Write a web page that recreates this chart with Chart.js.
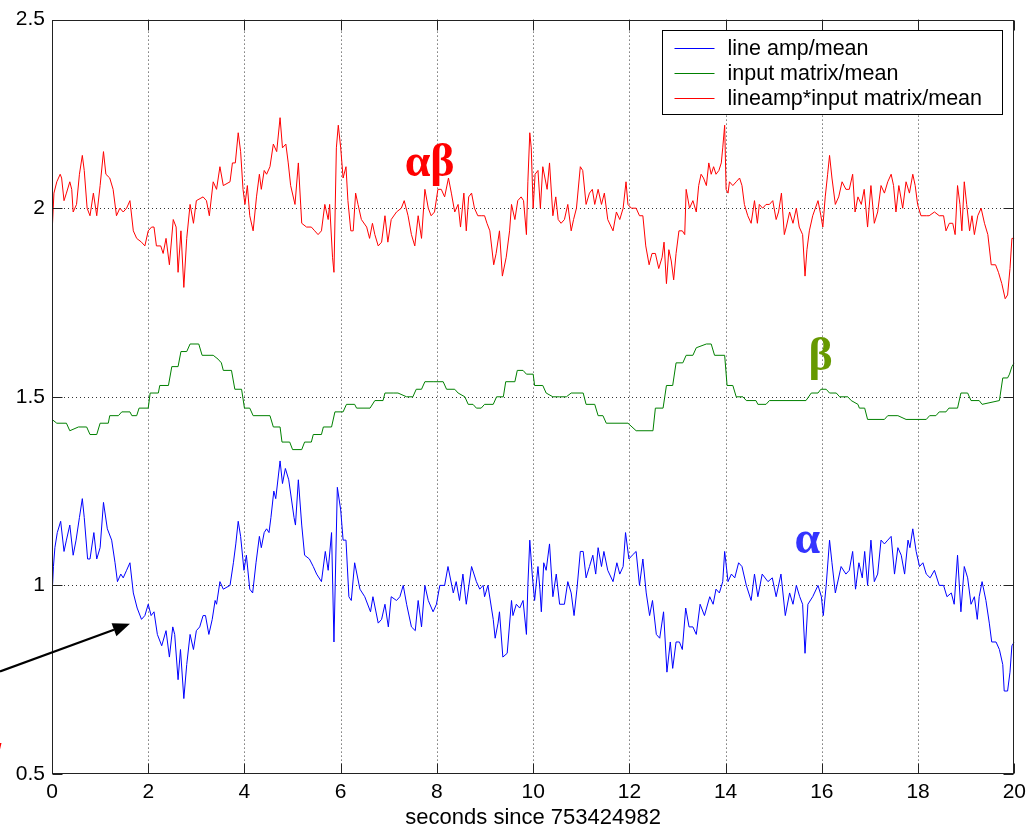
<!DOCTYPE html>
<html>
<head>
<meta charset="utf-8">
<script src="https://cdn.jsdelivr.net/npm/chart.js@4.4.1/dist/chart.umd.min.js"></script>
<style>
  html, body { margin: 0; padding: 0; background: #fff; }
  canvas { display: block; }
</style>
</head>
<body>
<canvas id="chart" width="1032" height="831"></canvas>
<script>
// Etiquetas y ejes
const seriesLabels = ['line amp/mean', 'input matrix/mean', 'lineamp*input matrix/mean'];
const xTicks = [0, 2, 4, 6, 8, 10, 12, 14, 16, 18, 20];
const yTicks = [0.5, 1, 1.5, 2, 2.5];
const yTickLabels = ['0.5', '1', '1.5', '2', '2.5'];
const xTitle = 'seconds since 753424982';

// Serie azul: [segundos, valor]
const blueData = [
  [0, 0.97], [0.03, 1.05], [0.06, 1.10], [0.11, 1.14], [0.18, 1.17], [0.25, 1.09], [0.30, 1.12], [0.37, 1.16],
  [0.44, 1.08], [0.50, 1.12], [0.57, 1.18], [0.63, 1.23], [0.67, 1.18], [0.74, 1.07], [0.79, 1.07], [0.87, 1.14],
  [0.93, 1.07], [1.00, 1.10], [1.07, 1.22], [1.15, 1.15], [1.24, 1.12], [1.31, 1.06], [1.36, 1.01], [1.43, 1.03],
  [1.48, 1.02], [1.55, 1.04], [1.62, 1.06], [1.69, 0.98], [1.77, 0.94], [1.86, 0.91], [1.93, 0.92], [2.00, 0.95],
  [2.06, 0.92], [2.12, 0.93], [2.19, 0.87], [2.28, 0.84], [2.37, 0.88], [2.44, 0.81], [2.51, 0.89], [2.55, 0.87],
  [2.62, 0.75], [2.67, 0.83], [2.74, 0.70], [2.80, 0.79], [2.87, 0.87], [2.94, 0.83], [3.00, 0.88], [3.07, 0.89],
  [3.14, 0.92], [3.19, 0.92], [3.26, 0.87], [3.33, 0.91], [3.39, 0.96], [3.42, 0.95], [3.49, 1.01], [3.56, 0.99],
  [3.70, 1.00], [3.77, 1.06], [3.82, 1.11], [3.87, 1.17], [3.92, 1.13], [3.99, 1.04], [4.04, 1.08], [4.11, 0.99],
  [4.17, 0.98], [4.24, 1.06], [4.31, 1.13], [4.35, 1.10], [4.41, 1.14], [4.46, 1.15], [4.51, 1.14], [4.55, 1.18],
  [4.61, 1.25], [4.65, 1.23], [4.74, 1.33], [4.79, 1.27], [4.85, 1.31], [4.92, 1.28], [5.03, 1.18], [5.06, 1.16],
  [5.12, 1.28], [5.19, 1.16], [5.25, 1.08], [5.35, 1.07], [5.43, 1.05], [5.50, 1.03], [5.60, 1.01], [5.68, 1.09],
  [5.74, 1.04], [5.81, 1.14], [5.86, 0.85], [5.93, 1.26], [6.00, 1.20], [6.05, 1.12], [6.11, 1.12], [6.17, 0.97],
  [6.22, 0.96], [6.29, 1.06], [6.40, 0.99], [6.50, 0.97], [6.62, 0.93], [6.67, 0.97], [6.78, 0.90], [6.85, 0.91],
  [6.92, 0.95], [6.99, 0.89], [7.05, 0.97], [7.16, 0.96], [7.23, 0.97], [7.30, 1.00], [7.37, 0.95], [7.47, 0.89],
  [7.55, 0.88], [7.61, 0.96], [7.68, 0.89], [7.75, 1.00], [7.82, 0.96], [7.92, 0.93], [7.99, 0.95], [8.06, 1.00],
  [8.16, 1.00], [8.23, 1.05], [8.34, 0.98], [8.40, 1.01], [8.47, 0.96], [8.54, 1.03], [8.61, 0.95], [8.72, 1.05],
  [8.82, 1.01], [8.89, 0.99], [8.96, 1.00], [8.99, 0.97], [9.06, 1.00], [9.17, 0.91], [9.21, 0.86], [9.27, 0.90],
  [9.30, 0.93], [9.37, 0.81], [9.46, 0.82], [9.55, 0.96], [9.58, 0.92], [9.65, 0.95], [9.72, 0.94], [9.79, 0.96],
  [9.86, 0.87], [9.89, 1.00], [9.93, 1.12], [9.98, 1.03], [10.03, 0.96], [10.10, 1.05],
  [10.14, 0.99], [10.17, 0.93], [10.22, 1.06], [10.27, 1.04], [10.34, 1.11], [10.41, 0.97], [10.48, 1.03], [10.55, 0.95],
  [10.65, 0.95], [10.72, 1.01], [10.79, 0.98], [10.85, 0.92], [10.91, 0.99], [10.98, 1.09], [11.04, 1.09], [11.10, 1.02],
  [11.17, 1.05], [11.24, 1.08], [11.30, 1.03], [11.35, 1.10], [11.42, 1.05], [11.47, 1.09], [11.55, 1.04], [11.66, 1.01],
  [11.74, 1.06], [11.80, 1.03], [11.87, 1.05], [11.92, 1.14], [11.99, 1.07], [12.06, 1.08], [12.14, 1.09], [12.21, 1.00],
  [12.28, 1.07], [12.35, 0.98], [12.42, 0.92], [12.48, 0.96], [12.56, 0.87], [12.63, 0.86], [12.71, 0.93], [12.78, 0.77],
  [12.85, 0.85], [12.90, 0.78], [12.97, 0.85], [13.04, 0.85], [13.10, 0.83], [13.17, 0.94], [13.24, 0.89], [13.32, 0.89],
  [13.39, 0.87], [13.47, 0.95], [13.56, 0.92], [13.67, 0.97], [13.74, 0.95], [13.80, 0.99], [13.87, 0.98], [13.94, 1.01],
  [13.98, 1.09], [14.05, 1.01], [14.12, 1.03], [14.19, 1.02], [14.27, 1.06], [14.34, 1.05], [14.43, 1.00], [14.53, 0.96],
  [14.60, 1.03], [14.67, 0.97], [14.76, 1.03], [14.88, 1.01], [14.97, 1.02], [15.05, 0.97], [15.15, 1.03], [15.24, 0.92],
  [15.33, 0.98], [15.40, 0.95], [15.47, 1.00], [15.54, 0.97], [15.60, 0.95], [15.65, 0.82], [15.71, 0.95], [15.81, 0.97],
  [15.92, 1.00], [15.99, 0.97], [16.03, 0.92], [16.09, 1.00], [16.16, 1.12], [16.21, 1.06], [16.28, 0.98], [16.40, 1.05],
  [16.50, 1.03], [16.57, 1.04], [16.64, 1.09], [16.70, 0.99], [16.77, 1.06], [16.84, 1.02], [16.89, 1.09], [16.95, 1.00],
  [17.02, 1.12], [17.09, 1.01], [17.16, 1.03], [17.23, 1.12], [17.30, 1.11], [17.37, 1.12], [17.44, 1.13], [17.51, 1.03],
  [17.58, 1.10], [17.65, 1.08], [17.72, 1.03], [17.79, 1.12], [17.83, 1.10], [17.89, 1.15], [17.96, 1.09], [18.03, 1.05],
  [18.10, 1.06], [18.17, 1.03], [18.25, 1.02], [18.34, 1.04], [18.44, 1.00], [18.53, 1.00], [18.60, 0.97], [18.69, 0.98],
  [18.75, 0.95], [18.82, 1.08], [18.89, 0.93], [18.96, 1.05], [19.03, 1.02], [19.10, 0.95], [19.17, 0.97], [19.23, 0.91],
  [19.27, 0.97], [19.33, 1.01], [19.41, 0.96], [19.48, 0.90], [19.53, 0.85], [19.62, 0.85], [19.69, 0.83], [19.76, 0.79],
  [19.79, 0.72], [19.86, 0.72], [19.91, 0.77], [19.95, 0.84], [20.0, 0.85]
];

// Serie verde (escalonada)
const greenData = [
  [0, 1.44], [0.10, 1.43], [0.30, 1.43], [0.37, 1.41], [0.55, 1.42], [0.72, 1.42], [0.79, 1.40], [0.93, 1.40],
  [1.00, 1.43], [1.17, 1.43], [1.20, 1.45], [1.38, 1.45], [1.45, 1.46], [1.62, 1.46], [1.66, 1.45], [1.76, 1.45],
  [1.81, 1.47], [2.00, 1.47], [2.04, 1.51], [2.21, 1.51], [2.24, 1.53], [2.42, 1.53], [2.49, 1.58], [2.62, 1.58],
  [2.68, 1.62], [2.80, 1.62], [2.87, 1.64], [3.05, 1.64], [3.12, 1.61], [3.35, 1.61], [3.45, 1.60], [3.52, 1.59],
  [3.56, 1.57], [3.73, 1.57], [3.80, 1.52], [3.94, 1.52], [4.00, 1.47], [4.11, 1.47], [4.18, 1.45], [4.53, 1.45],
  [4.60, 1.42], [4.74, 1.42], [4.78, 1.38], [4.94, 1.38], [5.00, 1.36], [5.19, 1.36], [5.25, 1.38], [5.39, 1.38],
  [5.43, 1.40], [5.60, 1.40], [5.64, 1.42], [5.81, 1.42], [5.88, 1.46], [6.05, 1.46], [6.12, 1.48], [6.29, 1.48],
  [6.33, 1.47], [6.61, 1.47], [6.71, 1.49], [6.88, 1.49], [6.92, 1.51], [7.09, 1.51], [7.19, 1.51], [7.37, 1.50],
  [7.50, 1.50], [7.57, 1.52], [7.68, 1.52], [7.75, 1.54], [7.92, 1.54], [8.13, 1.54], [8.20, 1.52], [8.37, 1.52],
  [8.44, 1.51], [8.58, 1.50], [8.65, 1.48], [8.75, 1.48], [8.82, 1.47], [8.92, 1.47], [8.99, 1.48], [9.17, 1.48],
  [9.24, 1.50], [9.38, 1.50], [9.43, 1.54], [9.62, 1.54], [9.67, 1.57], [9.79, 1.57], [9.86, 1.56], [10.0, 1.56],
  [10.03, 1.53], [10.20, 1.53], [10.27, 1.51], [10.41, 1.50], [10.55, 1.50], [10.69, 1.50], [10.79, 1.51], [11.04, 1.51],
  [11.10, 1.48], [11.28, 1.48], [11.35, 1.45], [11.45, 1.45], [11.52, 1.43], [11.97, 1.43], [12.14, 1.41], [12.49, 1.41],
  [12.54, 1.47], [12.70, 1.47], [12.77, 1.53], [12.90, 1.53], [12.97, 1.59], [13.11, 1.59], [13.18, 1.61], [13.32, 1.61],
  [13.39, 1.63], [13.60, 1.64], [13.70, 1.64], [13.77, 1.61], [13.98, 1.61], [14.03, 1.53], [14.15, 1.53], [14.22, 1.50],
  [14.36, 1.50], [14.43, 1.49], [14.63, 1.49], [14.67, 1.48], [14.84, 1.48], [14.91, 1.49], [15.67, 1.49], [15.78, 1.51],
  [15.92, 1.51], [15.98, 1.52], [16.09, 1.52], [16.16, 1.51], [16.30, 1.51], [16.37, 1.50], [16.54, 1.50], [16.61, 1.49],
  [16.75, 1.48], [16.78, 1.47], [16.89, 1.47], [16.95, 1.44], [17.30, 1.44], [17.37, 1.45], [17.58, 1.45], [17.75, 1.44],
  [18.17, 1.44], [18.24, 1.45], [18.37, 1.45], [18.44, 1.46], [18.58, 1.46], [18.64, 1.47], [18.82, 1.47], [18.89, 1.51],
  [19.03, 1.51], [19.10, 1.49], [19.27, 1.49], [19.33, 1.48], [19.69, 1.49], [19.76, 1.55], [19.86, 1.55], [19.90, 1.56],
  [19.95, 1.58], [20.0, 1.59]
];

// Serie roja
const redData = [
  [0, 1.93], [0.04, 2.04], [0.10, 2.07], [0.17, 2.09], [0.20, 2.08], [0.25, 2.02], [0.30, 2.04], [0.37, 2.07],
  [0.41, 2.05], [0.44, 1.99], [0.51, 2.01], [0.57, 2.09], [0.63, 2.14], [0.67, 2.10], [0.73, 2.00], [0.79, 1.98],
  [0.86, 2.04], [0.93, 1.98], [1.00, 2.06], [1.07, 2.15], [1.12, 2.09], [1.20, 2.08], [1.27, 2.05], [1.34, 1.98],
  [1.41, 2.00], [1.48, 1.99], [1.55, 2.00], [1.62, 2.02], [1.69, 1.94], [1.76, 1.92], [1.86, 1.91], [1.93, 1.90],
  [2.00, 1.94], [2.07, 1.95], [2.12, 1.95], [2.17, 1.90], [2.26, 1.90], [2.31, 1.88], [2.37, 1.92], [2.44, 1.85],
  [2.52, 1.97], [2.58, 1.95], [2.62, 1.83], [2.68, 1.94], [2.74, 1.79], [2.80, 1.92], [2.87, 2.01], [2.94, 1.96],
  [3.00, 2.02], [3.14, 2.03], [3.21, 2.02], [3.27, 1.98], [3.35, 2.07], [3.42, 2.05], [3.49, 2.11], [3.56, 2.06],
  [3.70, 2.07], [3.75, 2.12], [3.81, 2.12], [3.87, 2.20], [3.92, 2.15], [3.97, 2.05], [4.01, 2.01], [4.06, 2.06],
  [4.11, 1.98], [4.18, 1.94], [4.25, 2.03], [4.31, 2.09], [4.35, 2.05], [4.41, 2.10], [4.46, 2.09], [4.53, 2.11],
  [4.60, 2.17], [4.67, 2.15], [4.74, 2.24], [4.79, 2.16], [4.86, 2.17], [4.91, 2.12], [4.96, 2.06], [5.05, 2.01],
  [5.12, 2.12], [5.19, 1.96], [5.29, 1.95], [5.39, 1.95], [5.46, 1.94], [5.53, 1.93], [5.60, 1.94], [5.67, 2.01],
  [5.74, 1.97], [5.77, 2.01], [5.83, 1.87], [5.86, 1.83], [5.91, 2.16], [5.95, 2.22], [6.00, 2.16], [6.05, 2.08],
  [6.11, 2.11], [6.15, 2.02], [6.21, 1.94], [6.26, 1.94], [6.31, 2.04], [6.36, 2.01], [6.43, 1.97], [6.54, 1.95],
  [6.60, 1.92], [6.66, 1.96], [6.71, 1.93], [6.78, 1.90], [6.85, 1.91], [6.92, 1.98], [6.98, 1.91], [7.05, 1.97],
  [7.16, 1.99], [7.26, 2.00], [7.32, 2.02], [7.40, 1.98], [7.47, 1.93], [7.54, 1.90], [7.61, 1.98], [7.68, 1.92],
  [7.75, 2.05], [7.82, 2.00], [7.88, 1.98], [7.95, 1.99], [8.02, 2.05], [8.09, 2.05], [8.16, 2.03], [8.24, 2.08],
  [8.30, 2.04], [8.37, 1.99], [8.44, 2.01], [8.49, 1.95], [8.56, 2.04], [8.61, 1.94], [8.66, 2.03], [8.72, 2.04],
  [8.78, 2.00], [8.85, 1.98], [8.92, 1.98], [8.99, 1.98], [9.04, 1.96], [9.10, 1.94], [9.18, 1.85], [9.23, 1.88],
  [9.30, 1.94], [9.36, 1.82], [9.44, 1.87], [9.51, 1.94], [9.55, 2.01], [9.62, 1.97], [9.68, 2.02], [9.75, 2.03],
  [9.80, 2.02], [9.86, 1.93], [9.89, 2.07], [9.93, 2.20], [9.96, 2.16], [10.00, 2.00], [10.04, 2.09], [10.10, 2.10],
  [10.15, 2.00], [10.20, 2.11], [10.29, 2.05], [10.34, 2.12], [10.41, 1.98], [10.47, 2.03], [10.52, 1.97], [10.58, 1.96],
  [10.65, 1.97], [10.72, 2.01], [10.79, 1.94], [10.84, 1.97], [10.90, 2.00], [10.98, 2.11], [11.03, 2.10], [11.10, 2.01],
  [11.17, 2.04], [11.23, 2.05], [11.28, 2.01], [11.35, 2.05], [11.42, 2.01], [11.48, 2.04], [11.55, 1.97], [11.66, 1.94],
  [11.73, 1.99], [11.80, 1.97], [11.87, 2.00], [11.93, 2.07], [11.97, 2.01], [12.04, 2.00], [12.14, 2.00], [12.21, 1.98],
  [12.28, 1.98], [12.34, 1.90], [12.41, 1.85], [12.47, 1.88], [12.54, 1.88], [12.61, 1.84], [12.68, 1.87], [12.72, 1.91],
  [12.77, 1.80], [12.82, 1.89], [12.87, 1.86], [12.92, 1.81], [12.97, 1.88], [13.03, 1.94], [13.10, 1.94], [13.15, 1.93],
  [13.18, 2.05], [13.25, 2.00], [13.32, 2.02], [13.39, 1.99], [13.44, 2.06], [13.49, 2.09], [13.54, 2.08], [13.60, 2.06],
  [13.65, 2.12], [13.70, 2.09], [13.75, 2.11], [13.80, 2.09], [13.86, 2.10], [13.91, 2.12], [13.94, 2.16], [13.98, 2.22],
  [14.01, 2.05], [14.05, 2.04], [14.08, 2.07], [14.15, 2.06], [14.22, 2.07], [14.29, 2.08], [14.34, 2.06], [14.39, 2.01],
  [14.46, 1.98], [14.53, 1.96], [14.60, 2.02], [14.66, 1.96], [14.70, 2.01], [14.77, 2.00], [14.84, 2.01], [14.91, 2.01],
  [14.98, 2.02], [15.05, 1.97], [15.10, 1.99], [15.16, 2.04], [15.22, 1.93], [15.26, 1.95], [15.33, 1.99], [15.40, 1.96],
  [15.47, 2.00], [15.53, 1.95], [15.60, 1.93], [15.65, 1.82], [15.69, 1.89], [15.74, 1.94], [15.81, 1.98], [15.92, 2.02],
  [15.98, 1.98], [16.02, 1.95], [16.07, 2.03], [16.12, 2.09], [16.16, 2.14], [16.21, 2.08], [16.28, 2.01], [16.35, 2.03],
  [16.42, 2.07], [16.50, 2.05], [16.57, 2.05], [16.64, 2.09], [16.69, 1.99], [16.75, 2.03], [16.82, 2.01], [16.88, 2.05],
  [16.95, 1.95], [17.02, 2.06], [17.09, 1.96], [17.16, 1.99], [17.23, 2.06], [17.30, 2.04], [17.37, 2.07], [17.44, 2.09],
  [17.49, 2.06], [17.54, 1.99], [17.60, 2.06], [17.68, 2.00], [17.75, 2.07], [17.82, 2.04], [17.89, 2.09], [17.94, 2.06],
  [17.99, 2.01], [18.06, 1.98], [18.17, 1.98], [18.23, 1.98], [18.34, 1.99], [18.44, 1.98], [18.53, 1.98], [18.58, 1.94],
  [18.65, 1.96], [18.72, 1.96], [18.77, 1.93], [18.82, 2.06], [18.87, 2.01], [18.91, 1.94], [18.96, 2.07], [19.01, 2.01],
  [19.07, 1.94], [19.12, 1.98], [19.17, 1.93], [19.24, 1.98], [19.31, 2.00], [19.38, 1.96], [19.45, 1.93], [19.52, 1.85],
  [19.61, 1.85], [19.67, 1.83], [19.74, 1.80], [19.81, 1.76], [19.86, 1.77], [19.91, 1.84], [19.95, 1.92], [20.0, 1.92]
];

const fontFamily = "'Liberation Sans', Arial, Helvetica, sans-serif";
const axisFont = { family: fontFamily, size: 21 };
const titleFont = { family: fontFamily, size: 22 };

// Convierte pares [t, v] a puntos
function toPoints(pairs) {
  return pairs.map(p => ({ x: p[0], y: p[1] }));
}

// Plugin: rejilla punteada, caja, marcas hacia dentro, leyenda y anotaciones
const matlabAxes = {
  id: 'matlabAxes',
  beforeDatasetsDraw(chart) {
    const { ctx, chartArea: a, scales: { x, y } } = chart;
    ctx.save();
    ctx.strokeStyle = '#333';
    ctx.lineWidth = 1;
    ctx.setLineDash([1, 3]);
    xTicks.slice(1, -1).forEach(v => {
      const px = Math.round(x.getPixelForValue(v)) + 0.5;
      ctx.beginPath(); ctx.moveTo(px, a.top); ctx.lineTo(px, a.bottom); ctx.stroke();
    });
    yTicks.slice(1, -1).forEach(v => {
      const py = Math.round(y.getPixelForValue(v)) + 0.5;
      ctx.beginPath(); ctx.moveTo(a.left, py); ctx.lineTo(a.right, py); ctx.stroke();
    });
    ctx.restore();
  },
  afterDatasetsDraw(chart) {
    const { ctx, chartArea: a, scales: { x, y } } = chart;
    const L = Math.round(a.left) + 0.5, R = Math.round(a.right) - 0.5;
    const T = Math.round(a.top) + 0.5, B = Math.round(a.bottom) - 0.5;
    ctx.save();
    // caja
    ctx.strokeStyle = '#222';
    ctx.lineWidth = 1;
    ctx.strokeRect(L, T, R - L, B - T);
    // marcas hacia dentro
    const tl = 10;
    ctx.beginPath();
    xTicks.forEach(v => {
      const px = Math.round(x.getPixelForValue(v)) + 0.5;
      ctx.moveTo(px, B); ctx.lineTo(px, B - tl);
      ctx.moveTo(px, T); ctx.lineTo(px, T + tl);
    });
    yTicks.forEach(v => {
      const py = Math.round(y.getPixelForValue(v)) + 0.5;
      ctx.moveTo(L, py); ctx.lineTo(L + tl, py);
      ctx.moveTo(R, py); ctx.lineTo(R - tl, py);
    });
    ctx.stroke();

    // leyenda
    const lw = 340, lh = 84;
    const lx = Math.round(a.right) - 12 - lw + 0.5, ly = Math.round(a.top) + 10 + 0.5;
    ctx.fillStyle = '#fff';
    ctx.fillRect(lx, ly, lw, lh);
    ctx.strokeStyle = '#000';
    ctx.strokeRect(lx, ly, lw, lh);
    ctx.font = '21.5px ' + fontFamily;
    ctx.textBaseline = 'middle';
    ctx.textAlign = 'left';
    chart.data.datasets.forEach((ds, i) => {
      const ry = Math.round(ly + 17 + i * 25) + 0.5;
      ctx.strokeStyle = ds.borderColor;
      ctx.beginPath(); ctx.moveTo(lx + 12, ry); ctx.lineTo(lx + 52, ry); ctx.stroke();
      ctx.fillStyle = '#000';
      ctx.fillText(ds.label, lx + 65, ry + 1);
    });

    // letras griegas
    ctx.textBaseline = 'alphabetic';
    ctx.font = "bold 46px 'Liberation Serif', 'Times New Roman', serif";
    ctx.fillStyle = '#ff0000';
    ctx.fillText('αβ', x.getPixelForValue(7.33), y.getPixelForValue(2.085));
    ctx.fillStyle = '#669900';
    ctx.fillText('β', x.getPixelForValue(15.72), y.getPixelForValue(1.571));
    ctx.fillStyle = '#3333ff';
    ctx.fillText('α', x.getPixelForValue(15.43), y.getPixelForValue(1.087));

    // flecha
    const x0 = x.getPixelForValue(-1.08), y0 = y.getPixelForValue(0.772);
    const x1 = x.getPixelForValue(1.62), y1 = y.getPixelForValue(0.898);
    const ang = Math.atan2(y1 - y0, x1 - x0);
    const hl = 17, hw = 7;
    const bx = x1 - hl * Math.cos(ang), by = y1 - hl * Math.sin(ang);
    ctx.strokeStyle = '#000';
    ctx.fillStyle = '#000';
    ctx.lineWidth = 2.2;
    ctx.beginPath(); ctx.moveTo(x0, y0); ctx.lineTo(bx, by); ctx.stroke();
    ctx.beginPath();
    ctx.moveTo(x1, y1);
    ctx.lineTo(bx + hw * Math.sin(ang), by - hw * Math.cos(ang));
    ctx.lineTo(bx - hw * Math.sin(ang), by + hw * Math.cos(ang));
    ctx.closePath();
    ctx.fill();

    // signo cortado en el borde
    ctx.fillStyle = '#ff0000';
    ctx.font = 'italic bold 30px ' + fontFamily;
    ctx.fillText('!', -8, 763);
    ctx.restore();
  }
};

new Chart(document.getElementById('chart').getContext('2d'), {
  type: 'line',
  data: {
    datasets: [
      { label: seriesLabels[0], data: toPoints(blueData), borderColor: '#0000ff' },
      { label: seriesLabels[1], data: toPoints(greenData), borderColor: '#008000' },
      { label: seriesLabels[2], data: toPoints(redData), borderColor: '#ff0000' }
    ]
  },
  options: {
    responsive: false,
    animation: false,
    devicePixelRatio: 1,
    layout: { padding: { top: 16, right: 17, left: 0, bottom: 0 } },
    elements: {
      line: { borderWidth: 1, tension: 0, fill: false },
      point: { radius: 0, hoverRadius: 0 }
    },
    plugins: { legend: { display: false }, tooltip: { enabled: false } },
    scales: {
      x: {
        type: 'linear', min: 0, max: 20,
        afterBuildTicks: s => { s.ticks = xTicks.map(v => ({ value: v })); },
        afterFit: s => { s.height = 57; },
        ticks: { font: axisFont, color: '#000', padding: 6, maxRotation: 0, autoSkip: false,
                 callback: v => String(v) },
        grid: { display: false, drawTicks: false },
        border: { display: false },
        title: { display: true, text: xTitle, font: titleFont, color: '#000', padding: 0 }
      },
      y: {
        type: 'linear', min: 0.5, max: 2.5,
        afterBuildTicks: s => { s.ticks = yTicks.map(v => ({ value: v })); },
        afterFit: s => { s.width = 52; },
        ticks: { font: axisFont, color: '#000', padding: 7, autoSkip: false,
                 callback: v => yTickLabels[yTicks.indexOf(v)] },
        grid: { display: false, drawTicks: false },
        border: { display: false }
      }
    }
  },
  plugins: [matlabAxes]
});
</script>
</body>
</html>
